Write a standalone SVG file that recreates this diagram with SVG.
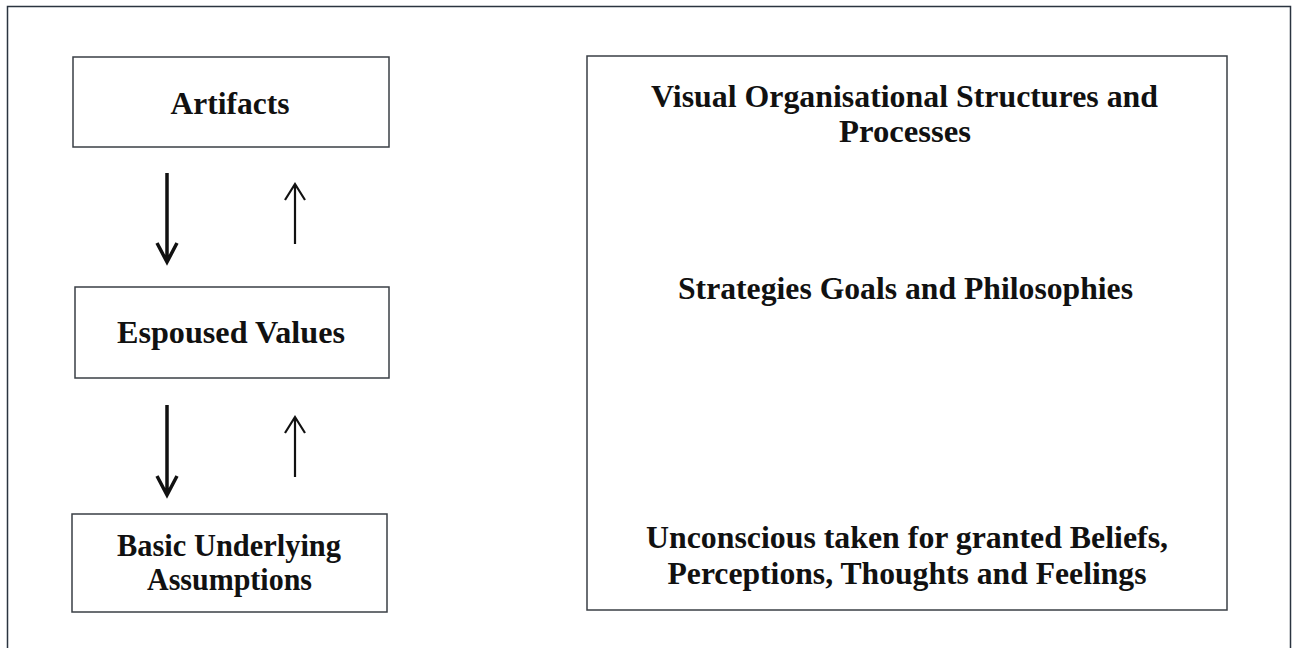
<svg xmlns="http://www.w3.org/2000/svg" width="1298" height="648" viewBox="0 0 1298 648">
  <style>
    .frame { fill: none; stroke: #2b3440; stroke-width: 1.5; }
    .box { fill: #ffffff; stroke: #3a3f45; stroke-width: 1.5; }
    .lbl { font-family: "Liberation Serif", "Times New Roman", serif; font-weight: bold; font-size: 31px; fill: #111111; text-anchor: middle; }
    .down { stroke: #111111; stroke-width: 3.5; fill: none; }
    .up { stroke: #111111; stroke-width: 2.2; fill: none; }
  </style>

  <rect x="0" y="0" width="1298" height="648" fill="#ffffff"/>
  <rect class="frame" x="7.5" y="6.5" width="1283" height="660"/>

  <g id="artifacts">
    <rect class="box" x="73" y="57" width="316" height="90"/>
    <text class="lbl" x="230" y="114" textLength="119" lengthAdjust="spacingAndGlyphs">Artifacts</text>
  </g>

  <g id="espoused-values">
    <rect class="box" x="75" y="287" width="314" height="91"/>
    <text class="lbl" x="231" y="343" textLength="228" lengthAdjust="spacingAndGlyphs">Espoused Values</text>
  </g>

  <g id="basic-assumptions">
    <rect class="box" x="72" y="514" width="315" height="98"/>
    <text class="lbl" x="229" y="556" textLength="224" lengthAdjust="spacingAndGlyphs">Basic Underlying</text>
    <text class="lbl" x="229.5" y="590" textLength="165" lengthAdjust="spacingAndGlyphs">Assumptions</text>
  </g>

  <g id="layers">
    <rect class="box" x="587" y="56" width="640" height="554"/>
    <text class="lbl" x="904.5" y="107" textLength="507" lengthAdjust="spacingAndGlyphs">Visual Organisational Structures and</text>
    <text class="lbl" x="905" y="142" textLength="132" lengthAdjust="spacingAndGlyphs">Processes</text>
    <text class="lbl" x="905.5" y="299" textLength="455" lengthAdjust="spacingAndGlyphs">Strategies Goals and Philosophies</text>
    <text class="lbl" x="907" y="548" textLength="522" lengthAdjust="spacingAndGlyphs">Unconscious taken for granted Beliefs,</text>
    <text class="lbl" x="907" y="584" textLength="479" lengthAdjust="spacingAndGlyphs">Perceptions, Thoughts and Feelings</text>
  </g>

  <g id="connectors">
    <!-- downward arrows (thick) -->
    <path class="down" d="M167 173 V262 M157 243 L167 262 L177 243"/>
    <path class="down" d="M167 405 V495 M157 476 L167 495 L177 476"/>
    <!-- upward arrows (thin) -->
    <path class="up" d="M295 244 V184 M285 200 L295 184 L305 200"/>
    <path class="up" d="M295 477 V417 M285 433 L295 417 L305 433"/>
  </g>
</svg>
